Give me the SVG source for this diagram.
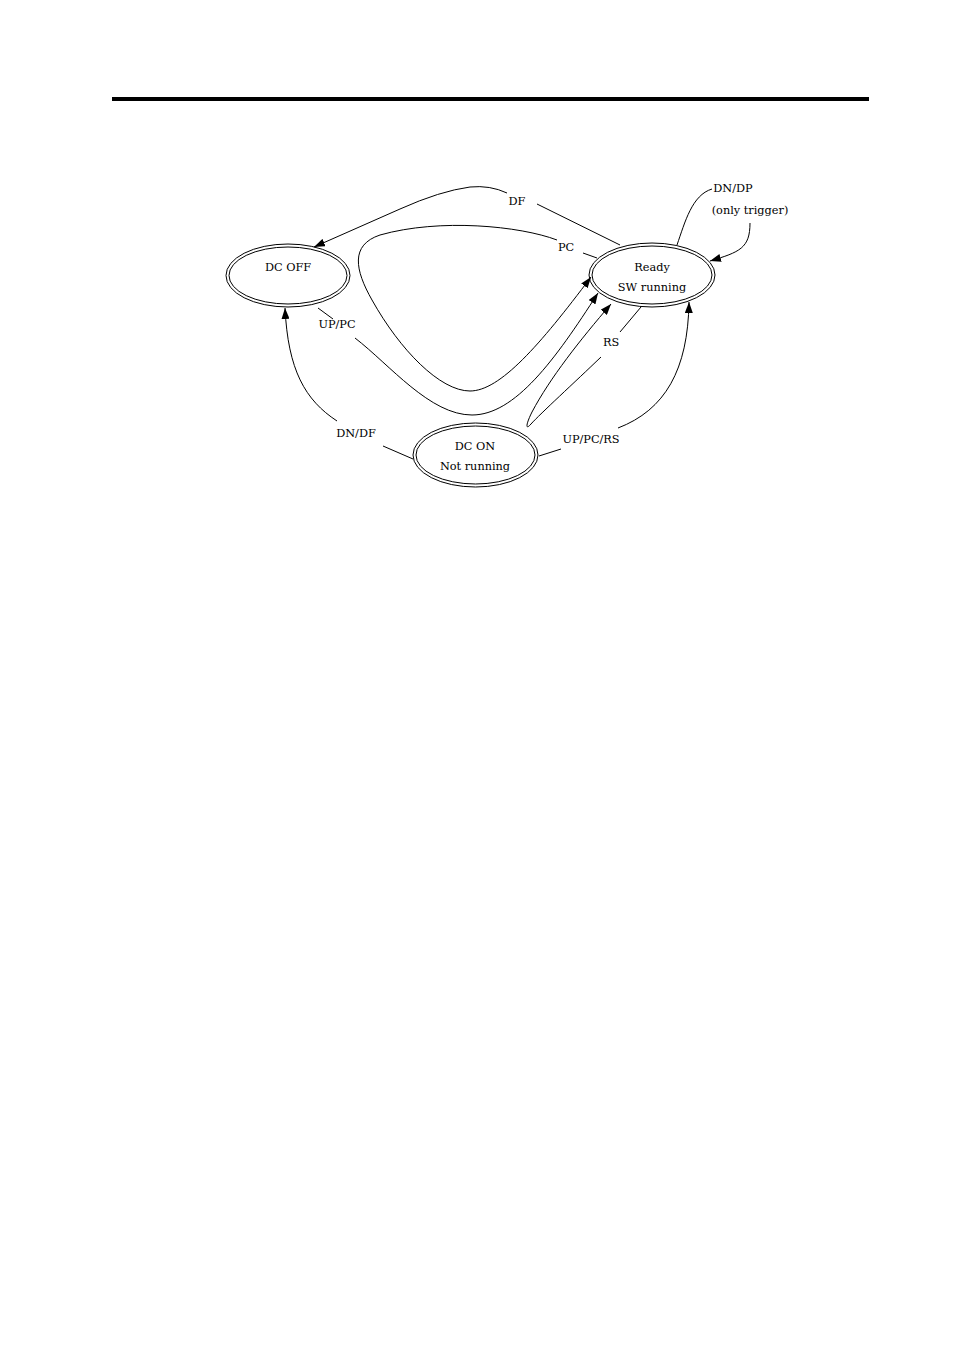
<svg xmlns="http://www.w3.org/2000/svg" width="954" height="1350" viewBox="0 0 954 1350">
<style>
.e{fill:none;stroke:#000;stroke-width:1}
.c{fill:none;stroke:#000;stroke-width:1}
text{font-family:"DejaVu Serif","Liberation Serif",serif;font-size:11.3px;fill:#000;text-anchor:middle}
</style>
<defs>
<marker id="ah" markerWidth="11" markerHeight="8" refX="11" refY="4" orient="auto" markerUnits="userSpaceOnUse">
<path d="M0,0 L11,4 L0,8 z" fill="#000"/>
</marker>
</defs>
<rect width="954" height="1350" fill="#fff"/>
<rect x="112" y="97" width="757" height="4" fill="#000"/>
<g id="connectors">
<path class="c" d="M620,245 L537,204"/>
<path class="c" d="M507,193 Q490,185 470,187 Q440,191 400,209 L314,247" marker-end="url(#ah)"/>
<path class="c" d="M597,258 L583,253"/>
<path class="c" d="M557,240 C520,226 440,218 380,235 C350,245 355,270 372,300 C400,350 440,391 470,391 C500,391 540,345 591,277" marker-end="url(#ah)"/>
<path class="c" d="M318,308 L333,319"/>
<path class="c" d="M355,338 C390,365 430,415 472,415 C515,415 555,360 598,293" marker-end="url(#ah)"/>
<path class="c" d="M641,307 L620,332"/>
<path class="c" d="M601,357 C575,382 540,414 531,424 C525,431 526,424 532,412 C550,378 580,340 611,304" marker-end="url(#ah)"/>
<path class="c" d="M413,459 L383,446"/>
<path class="c" d="M337,421 C305,400 288,370 285,308" marker-end="url(#ah)"/>
<path class="c" d="M539,456 L561,449"/>
<path class="c" d="M618,428 C665,410 688,370 689,302" marker-end="url(#ah)"/>
<path class="c" d="M677,245 C685,222 692,195 712,189"/>
<path class="c" d="M750,223 C750,248 740,252 710,261" marker-end="url(#ah)"/>
</g>
<g id="labels">
<text x="517" y="205">DF</text>
<text x="566" y="251">PC</text>
<text x="337" y="328">UP/PC</text>
<text x="611" y="346">RS</text>
<text x="356" y="437">DN/DF</text>
<text x="591" y="443">UP/PC/RS</text>
<text x="733" y="192">DN/DP</text>
<text x="750" y="214">(only trigger)</text>
</g>
<g id="dc_off">
<ellipse class="e" cx="288" cy="275.5" rx="62" ry="31.5"/>
<ellipse class="e" cx="288" cy="275.5" rx="59" ry="28.5"/>
<text x="288" y="271">DC OFF</text>
</g>
<g id="ready">
<ellipse class="e" cx="652" cy="275" rx="63" ry="32"/>
<ellipse class="e" cx="652" cy="275" rx="60" ry="29"/>
<text x="652" y="271">Ready</text>
<text x="652" y="291">SW running</text>
</g>
<g id="dc_on">
<ellipse class="e" cx="475.5" cy="455" rx="62.5" ry="32"/>
<ellipse class="e" cx="475.5" cy="455" rx="59.5" ry="29"/>
<text x="475" y="450">DC ON</text>
<text x="475" y="470">Not running</text>
</g>
</svg>
